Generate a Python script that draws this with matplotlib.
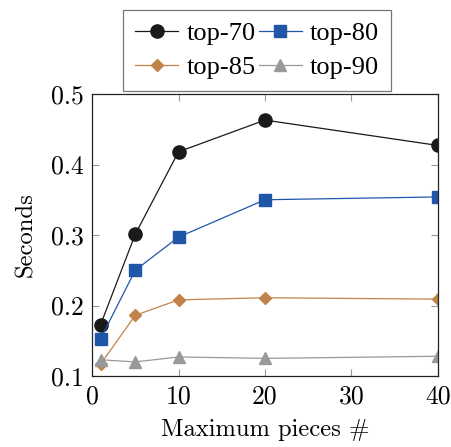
import matplotlib
matplotlib.use("Agg")
import matplotlib.pyplot as plt
from matplotlib.font_manager import FontProperties

plt.rcParams['font.family'] = 'serif'
plt.rcParams['font.serif'] = ['cmr10']
plt.rcParams['mathtext.fontset'] = 'cm'
plt.rcParams['axes.formatter.use_mathtext'] = True

pieces = [1, 5, 10, 20, 40]
top70 = [0.173, 0.301, 0.418, 0.463, 0.427]
top80 = [0.153, 0.250, 0.297, 0.350, 0.354]
top85 = [0.117, 0.186, 0.208, 0.211, 0.209]
top90 = [0.123, 0.120, 0.127, 0.125, 0.128]
labels = ['top-70', 'top-80', 'top-85', 'top-90']

fig = plt.figure(figsize=(4.52, 4.47), dpi=100)
ax = fig.add_axes([92/452, 1-376/447, (438-92)/452, (376-94)/447])

h70, = ax.plot(pieces, top70, color='#1a1a1a', marker='o', ms=9.5, lw=0.9, label=labels[0])
h80, = ax.plot(pieces, top80, color='#1f56a8', marker='s', ms=8.5, lw=0.9, label=labels[1])
h85, = ax.plot(pieces, top85, color='#c0834a', marker='D', ms=6.5, lw=0.9, label=labels[2])
h90, = ax.plot(pieces, top90, color='#999999', marker='^', ms=8, lw=0.9, label=labels[3])

ax.set_xlim(0, 40)
ax.set_ylim(0.1, 0.5)
ax.set_xticks([0, 10, 20, 30, 40])
ax.set_yticks([0.1, 0.2, 0.3, 0.4, 0.5])
ax.set_xticklabels(['0', '10', '20', '30', '40'])
ax.set_yticklabels(['0.1', '0.2', '0.3', '0.4', '0.5'])
ax.tick_params(direction='in', top=True, right=True, length=5, width=0.8,
               color='#999999', labelsize=18.5, pad=6)
for s in ax.spines.values():
    s.set_linewidth(0.9)
    s.set_color('#222222')

ax.set_xlabel('Maximum pieces #', fontsize=17.7, labelpad=8)
ax.set_ylabel('Seconds', fontsize=17.7, labelpad=10)

leg_font = FontProperties(family='Liberation Serif', size=19)
leg = fig.legend([h70, h85, h80, h90], [labels[0], labels[2], labels[1], labels[3]],
                 ncol=2, loc='upper left', bbox_to_anchor=(123/452, 1-10/447),
                 prop=leg_font,
                 frameon=True, fancybox=False, edgecolor='#555555',
                 handlelength=1.65, handletextpad=0.3, columnspacing=0.12,
                 labelspacing=0.4, borderpad=0.45, borderaxespad=0)
leg.get_frame().set_linewidth(0.9)

fig.savefig('out.png', dpi=100)
